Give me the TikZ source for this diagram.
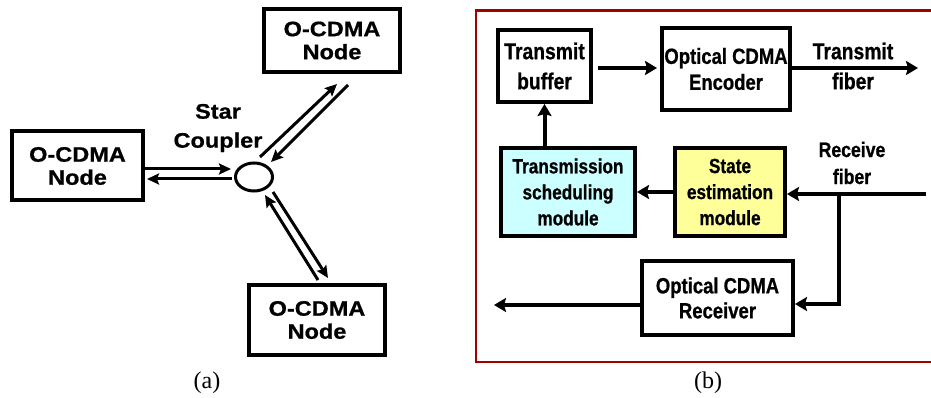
\documentclass[tikz,border=0pt]{standalone}
\usepackage{fontspec}
\setmainfont{Liberation Serif}
\newfontfamily\lsans[FakeStretch=1.12,BoldFeatures={FakeBold=0.8}]{Liberation Sans}
\newfontfamily\rsans[FakeStretch=0.84,BoldFeatures={FakeBold=0.8}]{Liberation Sans}
\usetikzlibrary{arrows.meta,calc,shapes.geometric}
\definecolor{frameRed}{HTML}{A00000}
\definecolor{cyanFill}{HTML}{CCFFFF}
\definecolor{yelFill}{HTML}{FFFF99}
\begin{document}
\begin{tikzpicture}[x=1pt,y=-1pt,
  lbox/.style={draw, line width=4pt, align=center, inner sep=0pt,
    font=\lsans\bfseries\fontsize{21}{23}\selectfont},
  rbox/.style={draw, line width=4pt, align=center, inner sep=0pt},
  larr/.style={line width=3pt, -{Stealth[length=12pt,width=11pt,inset=2pt]}},
  rarr/.style={line width=4pt, -{Stealth[length=12pt,width=14pt,inset=2pt]}},
  rlabel/.style={align=center, inner sep=0pt}
]
\useasboundingbox (0,0) rectangle (931,398);

% ---------- (a) ----------
\node[lbox, minimum width=131pt, minimum height=69pt] (L) at (77.5,166) {O-CDMA\\Node};
\node[lbox, minimum width=136pt, minimum height=63pt] (T) at (332,40.5) {O-CDMA\\Node};
\node[lbox, minimum width=136pt, minimum height=70pt] (B) at (317,320) {O-CDMA\\Node};
\node[draw, ellipse, line width=3pt, inner sep=0pt, minimum width=37pt, minimum height=28pt] (C) at (254,177) {};
\node[align=center, inner sep=0pt, font=\lsans\bfseries\fontsize{21}{29}\selectfont] (SC) at (218,128) {Star\\Coupler};

\draw[larr] ($(L.east)+(-3,3)$) -- ($(C.west)+(-3,-8)$);
\draw[larr] ($(C.west)+(-2,2)$) -- ($(L.east)+(2,13)$);
\draw[larr] ($(C.center)+(6,-20)$) -- ($(T.south)+(5,10)$);
\draw[larr] ($(T.south)+(16,11)$) -- ($(C.center)+(17,-15)$);
\draw[larr] ($(C.center)+(19,15)$) -- ($(B.north)+(11,-5)$);
\draw[larr] ($(B.north)+(1,-3)$) -- ($(C.center)+(11,18)$);

\node[font=\fontsize{24}{28}\selectfont] (capa) at (207,383) {(a)};

% ---------- (b) ----------
\draw[frameRed, line width=2.8pt] (476,10.5) rectangle (950,362);

\node[rbox, minimum width=93pt, minimum height=72pt,
  font=\rsans\bfseries\fontsize{23}{30}\selectfont] (TB) at (544.5,66) {Transmit\\buffer};
\node[rbox, minimum width=128pt, minimum height=82pt,
  font=\rsans\bfseries\fontsize{22}{26}\selectfont] (ENC) at (726,69) {Optical CDMA\\Encoder};
\node[rbox, fill=cyanFill, minimum width=134pt, minimum height=88pt,
  font=\rsans\bfseries\fontsize{20.5}{26}\selectfont] (SCH) at (568,192) {Transmission\\scheduling\\module};
\node[rbox, fill=yelFill, minimum width=110pt, minimum height=88pt,
  font=\rsans\bfseries\fontsize{20.5}{26}\selectfont] (ST) at (730,192) {State\\estimation\\module};
\node[rbox, minimum width=151pt, minimum height=74pt,
  font=\rsans\bfseries\fontsize{22}{25}\selectfont] (RX) at (717.5,298) {Optical CDMA\\Receiver};

\node[rlabel, font=\rsans\bfseries\fontsize{23}{30}\selectfont] (TF) at (853,66) {Transmit\\fiber};
\node[rlabel, font=\rsans\bfseries\fontsize{21}{27}\selectfont] (RF) at (852,163) {Receive\\fiber};

\coordinate (tout) at (918,68);
\coordinate (rin) at (926,194);
\coordinate (br) at (839,194);
\coordinate (rout) at (494,305);

\draw[rarr] ($(TB.east)+(5,2)$) -- ($(ENC.west)+(-3,-1)$);
\draw[rarr] (ENC.east |- tout) -- (tout);
\draw[rarr] (SCH.north -| TB.south) -- (TB.south);
\draw[rarr] (ST.west) -- (SCH.east);
\draw[rarr] (rin) -- (rin -| ST.east);
\draw[rarr] (br) |- ($(RX.east)+(0,6)$);
\draw[rarr] (RX.west |- rout) -- (rout);

\node[font=\fontsize{24}{28}\selectfont] (capb) at (708,383) {(b)};
\end{tikzpicture}
\end{document}
